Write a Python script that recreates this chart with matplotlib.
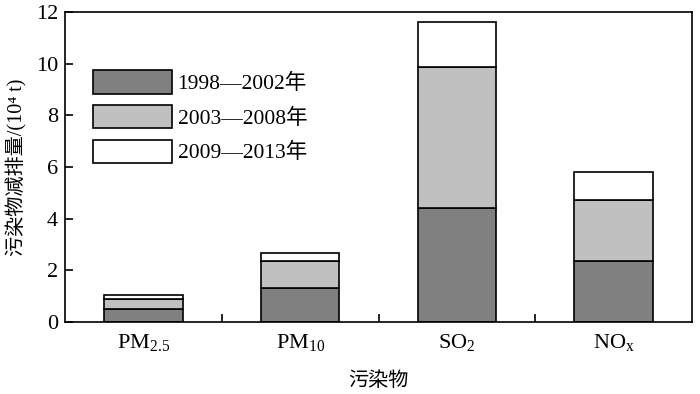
import matplotlib
matplotlib.use("Agg")
import matplotlib.pyplot as plt
import numpy as np
from matplotlib.ticker import FixedLocator

plt.rcParams['font.family'] = ['Liberation Serif', 'Noto Sans CJK SC', 'DejaVu Serif']
plt.rcParams['mathtext.fontset'] = 'custom'
plt.rcParams['mathtext.rm'] = 'Liberation Serif'
plt.rcParams['mathtext.it'] = 'Liberation Serif'

categories = [r'PM$_{2.5}$', r'PM$_{10}$', r'SO$_2$', r'NO$_\mathrm{x}$']
series_names = ['1998—2002年', '2003—2008年', '2009—2013年']
p1 = [0.49, 1.31, 4.42, 2.36]
p2 = [0.41, 1.05, 5.46, 2.37]
p3 = [0.16, 0.30, 1.75, 1.07]
colors = ['#808080', '#c0c0c0', '#ffffff']

fig = plt.figure(figsize=(7.0, 3.94), dpi=100)
ax = fig.add_axes([65/700, 1-322/394, 627/700, 310/394])

x = np.arange(len(categories))
bottom = np.zeros(len(categories))
for vals, c, name in zip([p1, p2, p3], colors, series_names):
    ax.bar(x, vals, width=0.5, bottom=bottom, color=c, edgecolor='black',
           linewidth=1.2, label=name)
    bottom = bottom + np.array(vals)

ax.set_xlim(-0.5, len(categories) - 0.5)
ax.set_ylim(0, 12)
ax.set_yticks([0, 2, 4, 6, 8, 10, 12])
ax.set_xticks(x)
ax.set_xticklabels(categories, fontsize=16)
ax.xaxis.set_minor_locator(FixedLocator([0.5, 1.5, 2.5]))
ax.tick_params(axis='x', which='major', length=0, pad=7)
ax.tick_params(axis='x', which='minor', direction='in', length=6, width=1.2)
ax.tick_params(axis='y', direction='in', length=6, width=1.2, labelsize=16, pad=5)
for s in ax.spines.values():
    s.set_linewidth(1.2)

ax.set_ylabel('污染物减排量/(10⁴ t)', fontsize=14.5, labelpad=6)
ax.set_xlabel('污染物', fontsize=14.5, labelpad=14)

leg = ax.legend(loc='upper left', bbox_to_anchor=(0.013, 0.875), frameon=False,
                fontsize=15.5, handlelength=3.67, handleheight=1.3,
                labelspacing=0.5, handletextpad=0.28, borderpad=0.4)

fig.savefig('out.png', dpi=100)
